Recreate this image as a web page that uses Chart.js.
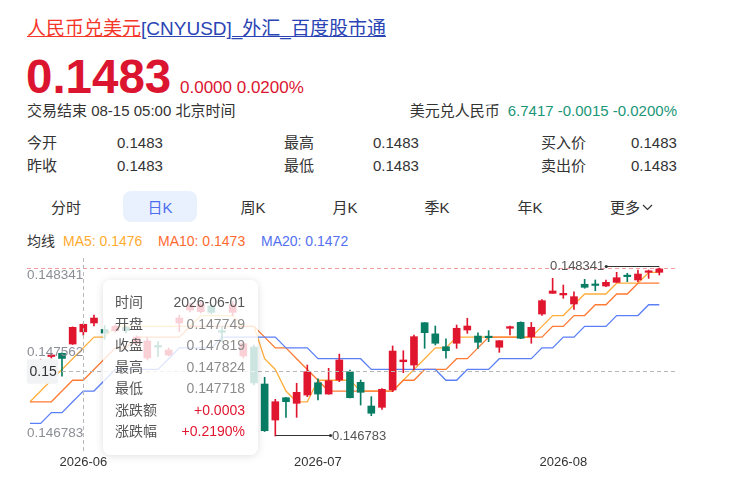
<!DOCTYPE html>
<html><head><meta charset="utf-8">
<script src="https://cdn.jsdelivr.net/npm/chart.js@4/dist/chart.umd.min.js"></script>
<style>
body{margin:0;width:750px;height:477px;overflow:hidden;background:#fff;font-family:"Liberation Sans",Arial,"Noto Sans CJK SC",sans-serif;color:#333;position:relative}
.a{position:absolute;white-space:nowrap}
.t{font-size:15px;line-height:15px}
.tab{position:absolute;width:80px;text-align:center;font-size:15px;line-height:15px;top:199.6px}
#tip{position:absolute;left:103px;top:280px;width:155px;height:175px;border-radius:8px;background:rgba(255,255,255,0.8);box-shadow:0 1px 8px rgba(0,0,0,0.13);box-sizing:border-box;padding:12.25px 13px 0 12px;font-size:14px}
#tip .r{display:flex;justify-content:space-between;height:21.5px;line-height:21.5px}
#tip .l{color:#555}
#tip .v{color:#8c8c8c}
</style></head><body>
<div class="a" style="left:27px;top:19.4px;font-size:19px;line-height:19px"><span style="color:#f5362a;text-decoration:underline">人民币兑美元</span><span style="color:#2a44b5;text-decoration:underline">[CNYUSD]_外汇_百度股市通</span></div>
<div class="a" style="left:26px;top:53.2px;font-size:47.5px;line-height:47px;font-weight:bold;color:#db1530">0.1483</div>
<div class="a" style="left:180px;top:78.6px;font-size:17px;line-height:17px;color:#db1530">0.0000 0.0200%</div>
<div class="a t" style="left:27px;top:103px">交易结束 08-15 05:00 北京时间</div>
<div class="a t" style="right:73px;top:103px">美元兑人民币<span style="color:#1a9678;margin-left:8px">6.7417 -0.0015 -0.0200%</span></div>

<div class="a t" style="left:27px;top:134.6px">今开</div><div class="a t" style="left:117px;top:134.6px">0.1483</div>
<div class="a t" style="left:284px;top:134.6px">最高</div><div class="a t" style="left:373px;top:134.6px">0.1483</div>
<div class="a t" style="left:541px;top:134.6px">买入价</div><div class="a t" style="left:631px;top:134.6px">0.1483</div>
<div class="a t" style="left:27px;top:158px">昨收</div><div class="a t" style="left:117px;top:158px">0.1483</div>
<div class="a t" style="left:284px;top:158px">最低</div><div class="a t" style="left:373px;top:158px">0.1483</div>
<div class="a t" style="left:541px;top:158px">卖出价</div><div class="a t" style="left:631px;top:158px">0.1483</div>

<div class="a" style="left:123px;top:190.5px;width:74px;height:31px;border-radius:8px;background:#eaf1fe"></div>
<div class="tab" style="left:26px">分时</div>
<div class="tab" style="left:120px;color:#4e6ef2">日K</div>
<div class="tab" style="left:213px">周K</div>
<div class="tab" style="left:305px">月K</div>
<div class="tab" style="left:397px">季K</div>
<div class="tab" style="left:490px">年K</div>
<div class="a t" style="left:610px;top:199.6px">更多<svg width="11" height="7" style="margin-left:2px;vertical-align:2px"><polyline points="1,1 5.5,5.5 10,1" fill="none" stroke="#333" stroke-width="1.2"/></svg></div>

<div class="a" id="maLegend" style="left:27px;top:233.6px;font-size:14px;line-height:14px"></div>

<div class="a" style="left:0;top:250px;width:750px;height:227px"><canvas id="c" width="750" height="227"></canvas></div>
<div id="tip"></div>

<script>
const dates = [
'2026-05-25','2026-05-26','2026-05-27','2026-05-28','2026-05-29',
'2026-06-01','2026-06-02','2026-06-03','2026-06-04','2026-06-05',
'2026-06-08','2026-06-09','2026-06-10','2026-06-11','2026-06-12',
'2026-06-15','2026-06-16','2026-06-17','2026-06-18','2026-06-19',
'2026-06-22','2026-06-23','2026-06-24','2026-06-25','2026-06-26',
'2026-06-29','2026-06-30',
'2026-07-01','2026-07-02','2026-07-03',
'2026-07-06','2026-07-07','2026-07-08','2026-07-09','2026-07-10',
'2026-07-13','2026-07-14','2026-07-15','2026-07-16','2026-07-17',
'2026-07-20','2026-07-21','2026-07-22','2026-07-23','2026-07-24',
'2026-07-27','2026-07-28','2026-07-29','2026-07-30','2026-07-31',
'2026-08-03','2026-08-04','2026-08-05','2026-08-06','2026-08-07',
'2026-08-10','2026-08-11','2026-08-12','2026-08-13','2026-08-14'];

const openP = [0.147330,0.147400,0.147520,0.147550,0.147636,0.147749,0.147831,0.147771,0.147760,0.147790,
0.147640,0.147506,0.147617,0.147534,0.147831,0.147951,0.147936,0.147990,0.147760,0.147930,
0.147525,0.147608,0.147265,0.146931,0.147138,0.147086,0.147163,0.147277,0.147172,0.147302,
0.147379,0.147281,0.147061,0.147049,0.147210,0.147472,0.147441,0.147834,0.147730,0.147611,
0.147643,0.147766,0.147710,0.147704,0.147606,0.147782,0.147837,0.147704,0.147914,0.148106,
0.148091,0.148007,0.148190,0.148188,0.148174,0.148208,0.148267,0.148230,0.148301,0.148301];
const closeP = [0.147400,0.147470,0.147528,0.147502,0.147791,0.147819,0.147877,0.147738,0.147800,0.147760,
0.147700,0.147664,0.147608,0.147580,0.147877,0.147998,0.148007,0.147930,0.147745,0.148000,
0.147640,0.147275,0.146832,0.147101,0.147101,0.147188,0.147379,0.147172,0.147296,0.147488,
0.147138,0.147188,0.146994,0.147216,0.147571,0.147488,0.147704,0.147741,0.147643,0.147574,
0.147782,0.147803,0.147652,0.147695,0.147667,0.147797,0.147689,0.147791,0.148038,0.148128,
0.148106,0.148075,0.148162,0.148179,0.148208,0.148251,0.148261,0.148285,0.148313,0.148332];
const highP = [0.147420,0.147495,0.147543,0.147554,0.147795,0.147824,0.147905,0.147808,0.147815,0.147800,
0.147712,0.147692,0.147658,0.147599,0.147905,0.148016,0.148026,0.148000,0.147797,0.148030,
0.147655,0.147627,0.147327,0.147123,0.147142,0.147272,0.147441,0.147314,0.147411,0.147543,
0.147395,0.147302,0.147148,0.147222,0.147618,0.147574,0.147720,0.147834,0.147803,0.147683,
0.147812,0.147875,0.147740,0.147760,0.147667,0.147803,0.147842,0.147836,0.148049,0.148245,
0.148183,0.148121,0.148236,0.148230,0.148230,0.148301,0.148292,0.148322,0.148322,0.148341];
const lowP = [0.147320,0.147390,0.147506,0.147339,0.147632,0.147718,0.147803,0.147680,0.147745,0.147740,
0.147630,0.147488,0.147518,0.147525,0.147750,0.147933,0.147924,0.147915,0.147658,0.147900,
0.147506,0.147256,0.146825,0.146783,0.146956,0.146956,0.147148,0.147117,0.147170,0.147287,
0.147135,0.147070,0.146971,0.147030,0.147194,0.147370,0.147395,0.147596,0.147627,0.147504,
0.147596,0.147735,0.147596,0.147658,0.147559,0.147720,0.147685,0.147643,0.147901,0.148106,
0.148060,0.147958,0.148153,0.148130,0.148168,0.148208,0.148214,0.148214,0.148245,0.148276];

const ma5 = [0.1471,0.1472,0.1473,0.1474,0.1475,0.1476,0.1477,0.1477,0.1478,0.1478,
0.1478,0.1478,0.1478,0.1478,0.1478,0.1478,0.1479,0.1479,0.1479,0.1479,
0.1478,0.1478,0.1475,0.1474,0.1472,0.1471,0.1471,0.1473,0.1473,0.1473,
0.1473,0.1472,0.1472,0.1472,0.1472,0.1473,0.1474,0.1475,0.1476,0.1476,
0.1477,0.1477,0.1477,0.1477,0.1477,0.1477,0.1477,0.1477,0.1478,0.1479,
0.1479,0.1480,0.1481,0.1481,0.1481,0.1482,0.1482,0.1482,0.1483,0.1483];
const ma10 = [0.1471,0.1471,0.1471,0.1472,0.1473,0.1473,0.1474,0.1475,0.1476,0.1476,
0.1477,0.1477,0.1477,0.1477,0.1477,0.1478,0.1478,0.1478,0.1478,0.1478,
0.1478,0.1478,0.1477,0.1476,0.1476,0.1475,0.1474,0.1473,0.1472,0.1472,
0.1472,0.1472,0.1472,0.1472,0.1472,0.1473,0.1473,0.1474,0.1474,0.1474,
0.1475,0.1475,0.1476,0.1477,0.1477,0.1477,0.1477,0.1477,0.1477,0.1478,
0.1478,0.1479,0.1479,0.1480,0.1480,0.1481,0.1481,0.1482,0.1482,0.1482];
const ma20 = [0.1469,0.1469,0.1470,0.1470,0.1471,0.1472,0.1472,0.1473,0.1474,0.1474,
0.1474,0.1474,0.1474,0.1475,0.1476,0.1476,0.1476,0.1476,0.1477,0.1477,
0.1477,0.1477,0.1477,0.1477,0.1476,0.1476,0.1476,0.1475,0.1475,0.1475,
0.1475,0.1475,0.1474,0.1474,0.1474,0.1474,0.1474,0.1474,0.1474,0.1473,
0.1473,0.1474,0.1474,0.1474,0.1475,0.1475,0.1475,0.1475,0.1476,0.1476,
0.1477,0.1477,0.1478,0.1478,0.1478,0.1479,0.1479,0.1479,0.1480,0.1480];

const hoverIndex = 5;
const crossValue = 0.147389;
const crossLabel = '0.15';
const changeAmt = '+0.0003';
const changePct = '+0.2190%';

const RED = '#e0162f', GREEN = '#087d64';
const C5 = '#ffab2e', C10 = '#ff6a30', C20 = '#5470f0';
const L5 = '#ffae3b', L10 = '#ff7a33', L20 = '#5b7ff7';

document.getElementById('maLegend').innerHTML =
 '<span style="position:absolute;left:0">均线</span>' +
 '<span style="position:absolute;left:36px;color:'+C5+'">MA5: '+ma5[hoverIndex].toFixed(4)+'</span>' +
 '<span style="position:absolute;left:131px;color:'+C10+'">MA10: '+ma10[hoverIndex].toFixed(4)+'</span>' +
 '<span style="position:absolute;left:234px;color:'+C20+'">MA20: '+ma20[hoverIndex].toFixed(4)+'</span>';

const rows = [
 ['时间', dates[hoverIndex], '#555'],
 ['开盘', openP[hoverIndex].toFixed(6), null],
 ['收盘', closeP[hoverIndex].toFixed(6), null],
 ['最高', highP[hoverIndex].toFixed(6), null],
 ['最低', lowP[hoverIndex].toFixed(6), null],
 ['涨跌额', changeAmt, RED],
 ['涨跌幅', changePct, RED]];
document.getElementById('tip').innerHTML = rows.map(r =>
 '<div class="r"><span class="l">'+r[0]+'</span><span class="v"'+(r[2]?' style="color:'+r[2]+'"':'')+'>'+r[1]+'</span></div>').join('');

const idx = dates.map((d,i)=>i);
const candleColors = idx.map(i => closeP[i] >= openP[i] ? RED : GREEN);
const hi = Math.max(...highP), lo = Math.min(...lowP);
const hiI = highP.indexOf(hi), loI = lowP.indexOf(lo);
const rng = hi - lo;

const overlay = {
 id:'overlay',
 beforeDatasetsDraw(chart){
  const {ctx, chartArea:a, scales:{y}} = chart;
  ctx.save();
  ctx.strokeStyle = '#f39a9a'; ctx.lineWidth = 1; ctx.setLineDash([4,3]);
  const yl = Math.round(y.getPixelForValue(hi)) + 0.5;
  ctx.beginPath(); ctx.moveTo(a.left, yl); ctx.lineTo(a.right, yl); ctx.stroke();
  ctx.restore();
 },
 afterDatasetsDraw(chart){
  const {ctx, chartArea:a, scales:{x,y}} = chart;
  ctx.save();
  // crosshair
  ctx.strokeStyle = '#b8b8b8'; ctx.lineWidth = 1; ctx.setLineDash([4,3]);
  const cx = Math.round(x.getPixelForValue(hoverIndex)) + 0.5;
  const cy = Math.round(y.getPixelForValue(crossValue)) + 0.5;
  ctx.beginPath(); ctx.moveTo(cx, a.top); ctx.lineTo(cx, a.bottom + 2); ctx.stroke();
  ctx.beginPath(); ctx.moveTo(a.left, cy); ctx.lineTo(a.right, cy); ctx.stroke();
  ctx.setLineDash([]);
  // y labels
  ctx.fillStyle = '#8b8e96';
  ctx.font = '13.5px "Liberation Sans", Arial, sans-serif';
  ctx.textAlign = 'left'; ctx.textBaseline = 'alphabetic';
  const mid = (hi + lo) / 2;
  ctx.fillText(hi.toFixed(6), a.left, y.getPixelForValue(hi) + 11);
  ctx.fillText(mid.toFixed(6), a.left, y.getPixelForValue(mid) + 4);
  ctx.fillText(lo.toFixed(6), a.left, y.getPixelForValue(lo) + 1);
  // max annotation
  ctx.strokeStyle = '#333'; ctx.fillStyle = '#333'; ctx.lineWidth = 1;
  const mxX = x.getPixelForValue(hiI), mxY = Math.round(y.getPixelForValue(hi)) - 1.5;
  const mxS = mxX - 53;
  ctx.beginPath(); ctx.moveTo(mxS, mxY); ctx.lineTo(mxX, mxY); ctx.stroke();
  ctx.beginPath(); ctx.arc(mxS, mxY, 1.6, 0, Math.PI*2); ctx.fill();
  ctx.fillStyle = '#555'; ctx.font = '13px "Liberation Sans", Arial, sans-serif';
  ctx.textAlign = 'right'; ctx.textBaseline = 'middle';
  ctx.fillText(hi.toFixed(6), mxS - 2, mxY);
  // min annotation
  const mnX = Math.round(x.getPixelForValue(loI)) + 0.5, mnY = Math.round(y.getPixelForValue(lo)) - 0.5;
  const mnE = mnX + 55;
  ctx.fillStyle = '#333';
  ctx.beginPath(); ctx.moveTo(mnX, mnY); ctx.lineTo(mnE, mnY); ctx.stroke();
  ctx.beginPath(); ctx.arc(mnE, mnY, 1.6, 0, Math.PI*2); ctx.fill();
  ctx.fillStyle = '#555'; ctx.textAlign = 'left';
  ctx.fillText(lo.toFixed(6), mnE + 1.5, mnY + 0.5);
  // x labels
  ctx.fillStyle = '#333'; ctx.font = '13px "Liberation Sans", Arial, sans-serif';
  ctx.textAlign = 'center'; ctx.textBaseline = 'middle';
  idx.forEach(i => {
   if (i > 0 && dates[i].slice(5,7) !== dates[i-1].slice(5,7)) {
    ctx.fillText(dates[i].slice(0,7), x.getPixelForValue(i), a.bottom + 12);
   }
  });
  // crosshair y label
  ctx.fillStyle = '#f2f3f5';
  ctx.beginPath(); ctx.roundRect(a.left - 0.3, cy - 12.2, 31.6, 24.4, 3); ctx.fill();
  ctx.fillStyle = '#333'; ctx.font = '14px "Liberation Sans", Arial, sans-serif';
  ctx.textAlign = 'left'; ctx.textBaseline = 'middle';
  ctx.fillText(crossLabel, a.left + 2.5, cy + 0.5);
  ctx.restore();
 }
};

new Chart(document.getElementById('c'), {
 type: 'bar',
 data: {
  datasets: [
   {type:'line', data: idx.map(i=>({x:i, y:ma5[i]})), borderColor:L5, borderWidth:1.3, pointRadius:0, tension:0, order:5},
   {type:'line', data: idx.map(i=>({x:i, y:ma10[i]})), borderColor:L10, borderWidth:1.3, pointRadius:0, tension:0, order:4},
   {type:'line', data: idx.map(i=>({x:i, y:ma20[i]})), borderColor:L20, borderWidth:1.3, pointRadius:0, tension:0, order:3},
   {type:'bar', data: idx.map(i=>({x:i, y:[lowP[i], highP[i]]})), backgroundColor:candleColors, borderWidth:0, barThickness:1, grouped:false, order:2},
   {type:'bar', data: idx.map(i=>({x:i, y:[openP[i], closeP[i]]})), backgroundColor:candleColors, borderWidth:0, barThickness:7, minBarLength:1.5, grouped:false, order:1}
  ]
 },
 options: {
  responsive:false, animation:false, events:[],
  layout:{padding:{left:27, right:73, top:8, bottom:27}},
  plugins:{legend:{display:false}, tooltip:{enabled:false}},
  scales:{
   x:{type:'linear', min:-0.28, max:60.66, offset:false, display:false},
   y:{type:'linear', min: lo - rng*14/168, max: hi + rng*10/168, display:false}
  }
 },
 plugins:[overlay]
});
</script>
</body></html>
